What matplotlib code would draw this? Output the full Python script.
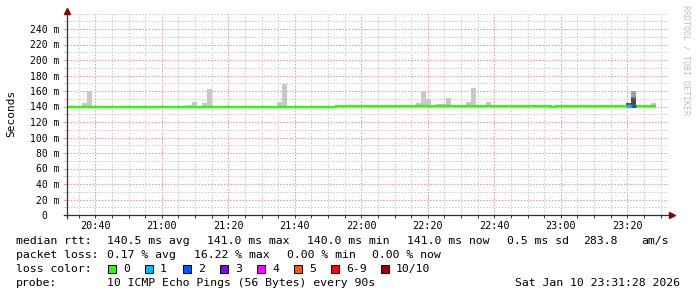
import matplotlib
matplotlib.use("Agg")
import matplotlib.pyplot as plt
from matplotlib.patches import Rectangle

# ---------------- data ----------------
# time axis in minutes after 20:00
t_start, t_end = 31.47, 211.47          # 20:31:28 .. 23:31:28
step = 1.5                               # 90 s step

# median rtt (ms) as a step function: change points and values
median_t = [31.47, 112.5, 177.0, 178.5, 208.5]
median_v = [140.0, 141.0, 140.0, 141.0, 141.0]

# smoke (ping spread) for the steps where it shows above the median line
smoke_t  = [36.0, 37.5, 67.5, 69.0, 72.0, 73.5, 94.5, 96.0,
            136.5, 138.0, 139.5, 142.5, 144.0, 145.5, 151.5, 153.0, 157.5, 207.0]
smoke_lo = [140.0, 140.0, 140.0, 140.0, 140.0, 140.0, 140.0, 140.0,
            141.0, 141.0, 141.0, 141.0, 141.0, 141.0, 141.0, 141.0, 141.0, 141.0]
smoke_hi = [144.5, 160.0, 142.0, 145.8, 144.5, 162.6, 145.8, 169.0,
            144.5, 160.0, 149.7, 143.2, 143.2, 151.0, 145.8, 163.9, 145.8, 144.5]

# smoke layers on the steps with packet loss (darker, fewer pings)
lsmoke_t  = [199.5, 201.0, 201.0, 201.0]
lsmoke_lo = [141.0, 141.0, 150.0, 152.5]
lsmoke_hi = [144.5, 150.0, 152.5, 160.0]
lsmoke_col = ["#555555", "#4a4a4a", "#6a6a6a", "#a0a0a0"]

# steps with packet loss: time, lost pings, median
loss_t = [199.5, 201.0]
loss_n = [1, 2]
loss_v = [141.0, 141.0]

loss_labels = ["0", "1", "2", "3", "4", "5", "6-9", "10/10"]
loss_colors = ["#26ff00", "#00b8ff", "#0059ff", "#7e00ff", "#ff00ff",
               "#ff5500", "#ff0000", "#a10000"]

yticks = list(range(0, 250, 20))
ytick_labels = ["0  "] + [f"{v} m" for v in yticks[1:]]
xticks = [40, 60, 80, 100, 120, 140, 160, 180, 200]
xtick_labels = ["20:40", "21:00", "21:20", "21:40", "22:00",
                "22:20", "22:40", "23:00", "23:20"]

stats_rtt = ["median rtt:", "140.5 ms avg", "141.0 ms max", "140.0 ms min",
             "141.0 ms now", "0.5 ms sd", "283.8", "am/s"]
stats_loss = ["packet loss:", "0.17 % avg", "16.22 % max", "0.00 % min", "0.00 % now"]
probe_txt = ["probe:", "10 ICMP Echo Pings (56 Bytes) every 90s", "Sat Jan 10 23:31:28 2026"]

# ---------------- figure ----------------
W, H = 697, 297
fig = plt.figure(figsize=(W / 100, H / 100), dpi=100)
MONO = "DejaVu Sans Mono"

def fx(px):
    return px / W

def fy(py):
    return 1 - py / H

ax_l, ax_r, ax_t, ax_b = 67, 668, 13.5, 215
ax = fig.add_axes([fx(ax_l), fy(ax_b), (ax_r - ax_l) / W, (ax_b - ax_t) / H])
px_per_min = 3.325
ax.set_xlim(t_start, t_start + (ax_r - ax_l) / px_per_min)
ax.set_ylim(0, 260)

for s in ax.spines.values():
    s.set_visible(False)

# grid
ax.set_xticks(xticks)
ax.set_xticks([m for m in range(35, 212, 5) if m not in xticks], minor=True)
ax.set_yticks(yticks)
ax.set_yticks(list(range(10, 261, 10)), minor=True)
ax.grid(which="minor", color="#cfcfcf", linestyle=(0, (1.5, 1.5)), linewidth=0.75)
ax.grid(which="major", color="#e8a0a0", linestyle=(0, (1.5, 1.5)), linewidth=0.75)
ax.set_axisbelow(True)

ax.set_xticklabels(xtick_labels, fontfamily=MONO, fontsize=7.3)
ax.set_yticklabels(ytick_labels, fontfamily=MONO, fontsize=7.0)
ax.tick_params(axis="x", which="both", length=2, width=0.75, color="#404040", pad=2.5)
ax.tick_params(axis="y", which="major", length=3, width=0.75, color="#e8a0a0", pad=2.5)
ax.tick_params(axis="y", which="minor", length=3, width=0.75, color="#cfcfcf")

# smoke
ax.bar(smoke_t, [h - l for h, l in zip(smoke_hi, smoke_lo)], bottom=smoke_lo,
       width=step, align="edge", color="#c8c8c8", linewidth=0, zorder=2)
ax.bar(lsmoke_t, [h - l for h, l in zip(lsmoke_hi, lsmoke_lo)], bottom=lsmoke_lo,
       width=step, align="edge", color=lsmoke_col, linewidth=0, zorder=2)

# median line
ax.plot(median_t, median_v, drawstyle="steps-post", color=loss_colors[0],
        linewidth=1.7, solid_capstyle="butt", zorder=3)
for t, n, v in zip(loss_t, loss_n, loss_v):
    ax.hlines(v, t, t + step, color=loss_colors[n], linewidth=2.2, zorder=4)

# axes with arrows
ax.plot([-0.005, 1.003], [0, 0], transform=ax.transAxes, color="#303030",
        linewidth=0.9, clip_on=False, zorder=5)
ax.plot([0, 0], [-0.015, 1.0], transform=ax.transAxes, color="#303030",
        linewidth=0.9, clip_on=False, zorder=5)
ax.plot([1.006], [0], marker=">", markersize=4, color="#8b0000",
        transform=ax.transAxes, clip_on=False, zorder=6)
ax.plot([0], [1.01], marker="^", markersize=4, color="#8b0000",
        transform=ax.transAxes, clip_on=False, zorder=6)

fig.text(fx(11), fy(113), "Seconds", rotation=90, ha="center", va="center",
         fontfamily=MONO, fontsize=8)
fig.text(fx(686), fy(5), "RRDTOOL / TOBI OETIKER", rotation=-90, ha="center",
         va="top", fontfamily=MONO, fontsize=6, color="#c0c0c0")

# legend / stats
fs = 8.25
for txt, x in zip(stats_rtt, [16, 107, 207, 307, 407, 507, 583, 641]):
    fig.text(fx(x), fy(241), txt, ha="left", va="center", fontfamily=MONO, fontsize=fs)
for txt, x in zip(stats_loss, [16, 107, 194, 287, 372]):
    fig.text(fx(x), fy(255), txt, ha="left", va="center", fontfamily=MONO, fontsize=fs)
fig.text(fx(16), fy(269), "loss color:", ha="left", va="center", fontfamily=MONO, fontsize=fs)
sw_x = [108, 145, 183, 220, 257, 294, 331, 381]
for lab, col, x in zip(loss_labels, loss_colors, sw_x):
    fig.patches.append(Rectangle((fx(x), fy(273)), 8 / W, 8 / H, transform=fig.transFigure,
                                 facecolor=col, edgecolor="black", linewidth=0.7))
    fig.text(fx(x + 15), fy(269), lab, ha="left", va="center", fontfamily=MONO, fontsize=fs)
fig.text(fx(16), fy(283), probe_txt[0], ha="left", va="center", fontfamily=MONO, fontsize=fs)
fig.text(fx(107), fy(283), probe_txt[1], ha="left", va="center", fontfamily=MONO, fontsize=fs)
fig.text(fx(680), fy(283), probe_txt[2], ha="right", va="center", fontfamily=MONO, fontsize=fs)

fig.savefig("out.png", dpi=100, facecolor="white")
